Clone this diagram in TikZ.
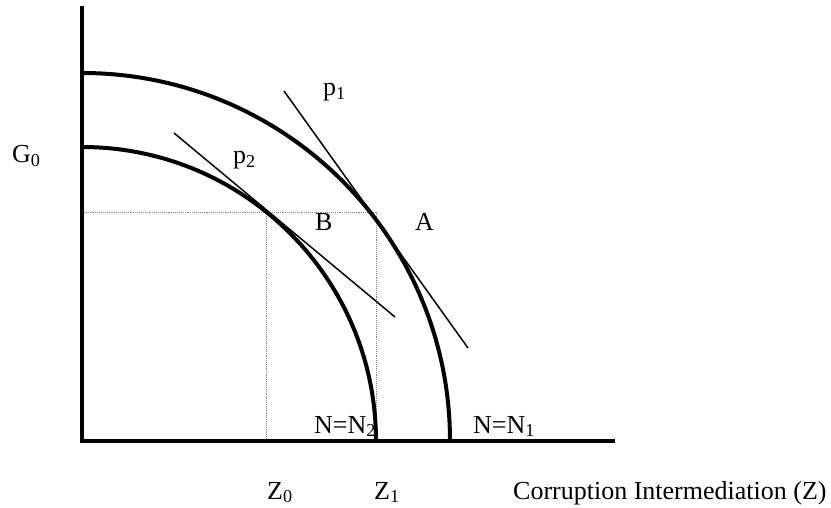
\documentclass[tikz,border=0pt]{standalone}
\usepackage{fontspec}
\setmainfont{Liberation Serif}
\begin{document}
\begin{tikzpicture}[x=1pt,y=1pt,
  axis/.style={line width=4.5pt},
  curve/.style={line width=4pt},
  tang/.style={line width=1.5pt},
  guide/.style={densely dotted, gray, line width=0.9pt},
  lab/.style={anchor=base west, inner sep=0pt, font=\fontsize{26}{30}\selectfont}]
\useasboundingbox (0,0) rectangle (831,-508);
% coordinates (pixel x, -pixel y)
\coordinate (O) at (82,-441);
\coordinate (ytop) at (82,-6);
\coordinate (xend) at (615,-441);
\coordinate (g) at (82,-212);
\coordinate (zb) at (266,-212);
\coordinate (za) at (376,-212);
\coordinate (z0) at (266,-441);
\coordinate (z1) at (376,-441);
\coordinate (p1a) at (284,-91);
\coordinate (p1b) at (468,-348);
\coordinate (p2a) at (174,-133);
\coordinate (p2b) at (395,-317);
% guides
\draw[guide] (g) -- (za);
\draw[guide] (zb) -- (z0);
\draw[guide] (za) -- (z1);
% curves
\draw[curve] (82,-73) arc[start angle=90, end angle=0, radius=368];
\draw[curve] (82,-147) arc[start angle=90, end angle=0, radius=294];
% tangents
\draw[tang] (p1a) -- (p1b);
\draw[tang] (p2a) -- (p2b);
% axes
\draw[axis] (ytop) -- (O |- xend) -- (xend);
% labels
\node[lab] (G0) at (12,-163) {G\textsubscript{0}};
\node[lab] (p1) at (323,-96) {p\textsubscript{1}};
\node[lab] (p2) at (233,-164) {p\textsubscript{2}};
\node[lab] (B) at (315,-230) {B};
\node[lab] (A) at (415,-230) {A};
\node[lab] (N2) at (314,-433) {N=N\textsubscript{2}};
\node[lab] (N1) at (473,-433) {N=N\textsubscript{1}};
\node[lab] (Z0) at (267,-499) {Z\textsubscript{0}};
\node[lab] (Z1) at (374,-499) {Z\textsubscript{1}};
\node[lab] (xl) at (513,-499) {Corruption Intermediation (Z)};
\end{tikzpicture}
\end{document}
